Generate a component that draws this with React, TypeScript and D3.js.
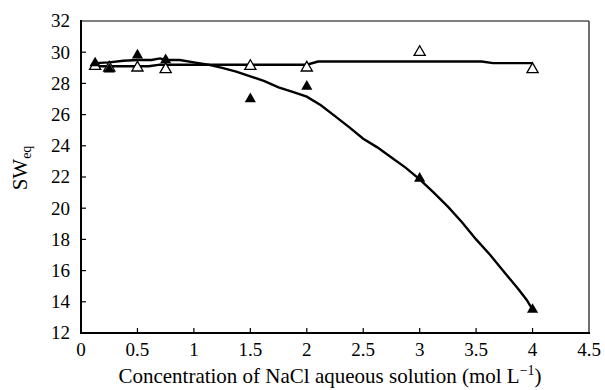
import React from "react";
import * as d3 from "d3";

// Measured equilibrium swelling (SWeq) versus NaCl concentration
const concFilled = [0.125, 0.25, 0.5, 0.75, 1.5, 2, 3, 4];
const swFilled = [29.3, 28.9, 29.8, 29.5, 27.0, 27.8, 21.9, 13.5];

const concOpen = [0.125, 0.25, 0.5, 0.75, 1.5, 2, 3, 4];
const swOpen = [29.1, 29.0, 29.0, 28.9, 29.1, 29.0, 30.0, 28.9];

// Model curves
const fitFilledX = [0.125, 0.25, 0.375, 0.5, 0.625, 0.7, 0.75, 0.875, 1.0, 1.125, 1.25, 1.375, 1.5, 1.625, 1.75, 1.875, 2.0, 2.125, 2.25, 2.375, 2.5, 2.625, 2.75, 2.875, 3.0, 3.125, 3.25, 3.375, 3.5, 3.625, 3.75, 3.875, 3.95, 4.0];
const fitFilledY = [29.3, 29.35, 29.45, 29.5, 29.5, 29.6, 29.5, 29.5, 29.35, 29.2, 29.0, 28.75, 28.45, 28.15, 27.75, 27.45, 27.15, 26.6, 25.9, 25.2, 24.45, 23.9, 23.25, 22.6, 21.85, 21.0, 20.1, 19.1, 18.0, 17.0, 15.9, 14.8, 14.1, 13.5];

const fitOpenX = [0.125, 0.25, 0.5, 0.6, 0.7, 1.0, 1.5, 2.0, 2.1, 3.0, 3.55, 3.65, 4.0];
const fitOpenY = [29.1, 29.1, 29.1, 29.1, 29.2, 29.2, 29.2, 29.2, 29.4, 29.4, 29.4, 29.3, 29.3];

const xTicks = [0, 0.5, 1, 1.5, 2, 2.5, 3, 3.5, 4, 4.5];
const yTicks = [12, 14, 16, 18, 20, 22, 24, 26, 28, 30, 32];

const W = 605;
const H = 390;
const left = 81;
const right = 589;
const top = 21;
const bottom = 333;

const font = "'Liberation Serif', 'Times New Roman', serif";

export default function App() {
  const x = d3.scaleLinear().domain([0, 4.5]).range([left, right]);
  const y = d3.scaleLinear().domain([12, 32]).range([bottom, top]);

  const line = d3
    .line<[number, number]>()
    .x((d) => x(d[0]))
    .y((d) => y(d[1]))
    .curve(d3.curveLinear);

  const filledPath = line(fitFilledX.map((v, i) => [v, fitFilledY[i]]));
  const openPath = line(fitOpenX.map((v, i) => [v, fitOpenY[i]]));

  const tri = d3.symbol().type(d3.symbolTriangle).size(54)();

  return (
    <svg
      width={W}
      height={H}
      style={{ position: "absolute", left: 0, top: 0, background: "#fff" }}
      fontFamily={font}
    >
      {/* frame */}
      <line x1={left} x2={right} y1={top} y2={top} stroke="#555" strokeWidth={1.6} />
      <line x1={right} x2={right} y1={top} y2={bottom} stroke="#333" strokeWidth={1.4} />
      <line x1={left} x2={left} y1={top - 1} y2={bottom + 1} stroke="#000" strokeWidth={2} />
      <line x1={left - 1} x2={right + 1} y1={bottom} y2={bottom} stroke="#000" strokeWidth={2} />

      {/* ticks */}
      {xTicks.map((t) => (
        <g key={"x" + t}>
          {t > 0 && t < 4.5 && (
            <line x1={x(t)} x2={x(t)} y1={bottom} y2={bottom - 5} stroke="#000" strokeWidth={1.2} />
          )}
          <text x={x(t)} y={356} textAnchor="middle" fontSize={19}>
            {t}
          </text>
        </g>
      ))}
      {yTicks.map((t) => (
        <g key={"y" + t}>
          {t > 12 && t < 32 && (
            <line x1={left} x2={left + 5} y1={y(t)} y2={y(t)} stroke="#000" strokeWidth={1.2} />
          )}
          <text x={70} y={y(t)} dy="0.34em" textAnchor="end" fontSize={19}>
            {t}
          </text>
        </g>
      ))}

      {/* curves */}
      <path d={openPath ?? ""} fill="none" stroke="#000" strokeWidth={2.4} />
      <path d={filledPath ?? ""} fill="none" stroke="#000" strokeWidth={2.4} />

      {/* markers */}
      {concOpen.map((c, i) => (
        <path
          key={"o" + i}
          d={tri ?? ""}
          transform={`translate(${x(c)},${y(swOpen[i])})`}
          fill="#fff"
          stroke="#000"
          strokeWidth={1.3}
        />
      ))}
      {concFilled.map((c, i) => (
        <path
          key={"f" + i}
          d={tri ?? ""}
          transform={`translate(${x(c)},${y(swFilled[i])})`}
          fill="#000"
        />
      ))}

      {/* axis titles */}
      <text x={330} y={383} textAnchor="middle" fontSize={21}>
        Concentration of NaCl aqueous solution (mol L
        <tspan fontSize={14} dy={-8}>
          −1
        </tspan>
        <tspan dy={8}>)</tspan>
      </text>
      <text transform="translate(27,168) rotate(-90)" textAnchor="middle" fontSize={21}>
        SW
        <tspan fontSize={14} dy={4}>
          eq
        </tspan>
      </text>
    </svg>
  );
}
